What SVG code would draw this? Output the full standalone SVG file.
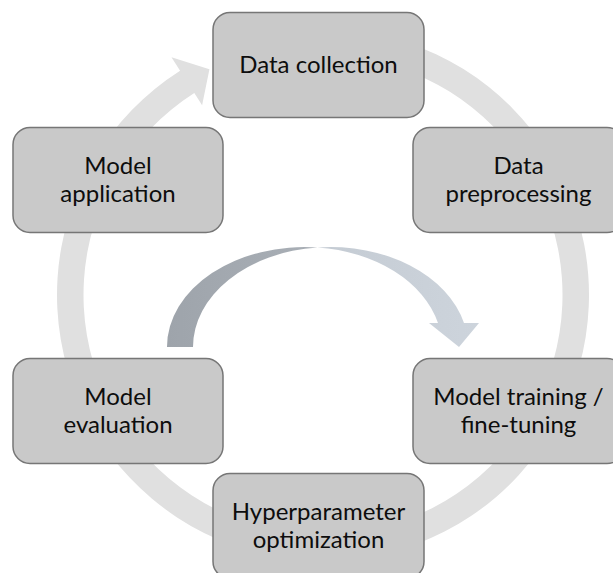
<svg xmlns="http://www.w3.org/2000/svg" width="613" height="573" viewBox="0 0 613 573">
  <style>
    .node rect { fill: #c9c9c9; stroke: #767676; stroke-width: 1.5; }
    .node text { font-family: Lato, "Open Sans", "Liberation Sans", sans-serif; font-size: 24px; fill: #0d0d0d; text-anchor: middle; }
    .ring { fill: #e0e0e0; }
  </style>
  <defs>
    <linearGradient id="tailShade" gradientUnits="userSpaceOnUse" x1="167" y1="0" x2="318" y2="0">
      <stop offset="0" stop-color="#9ea4ab"/>
      <stop offset="1" stop-color="#a9afb6"/>
    </linearGradient>
    <linearGradient id="headShade" gradientUnits="userSpaceOnUse" x1="317" y1="0" x2="480" y2="0">
      <stop offset="0" stop-color="#c4cbd3"/>
      <stop offset="1" stop-color="#cdd4dc"/>
    </linearGradient>
  </defs>

  <!-- connectors: cycle ring behind the steps and the inner loop-back arrow -->
  <g id="connectors">
    <path class="ring" d="M 346.18,30.01 A 266 266 0 1 1 180.08,70.66 L 171.48,57.16 L 209.43,69.20 L 202.11,105.24 L 194.32,93.01 A 239.5 239.5 0 1 0 343.87,56.41 Z"/>
    <g id="loop-arrow">
      <path fill="url(#tailShade)" d="M 167,347 A 137.5 100 0 0 1 317.5,247.45 A 137.5 100 0 0 0 193,347 Z"/>
      <path fill="url(#headShade)" d="M 317.5,247.45 A 137.5 100 0 0 1 464,323 L 479,323 L 459,347 L 429,323 L 438,323 A 137.5 100 0 0 0 317.5,247.45 Z"/>
    </g>
  </g>

  <g id="data-collection" class="node">
    <rect x="213" y="12.5" width="211" height="105" rx="17"/>
    <text x="318.5" y="72.5">Data collection</text>
  </g>
  <g id="data-preprocessing" class="node">
    <rect x="413" y="127.5" width="211" height="105" rx="17"/>
    <text x="518.5" y="174">Data</text>
    <text x="518.5" y="202">preprocessing</text>
  </g>
  <g id="model-training" class="node">
    <rect x="413" y="358.5" width="211" height="105" rx="17"/>
    <text x="518.5" y="405">Model training /</text>
    <text x="518.5" y="433">fine-tuning</text>
  </g>
  <g id="hyperparameter-optimization" class="node">
    <rect x="213" y="473.5" width="211" height="105" rx="17"/>
    <text x="318.5" y="520">Hyperparameter</text>
    <text x="318.5" y="548">optimization</text>
  </g>
  <g id="model-evaluation" class="node">
    <rect x="13" y="358.5" width="210" height="105" rx="17"/>
    <text x="118" y="405">Model</text>
    <text x="118" y="433">evaluation</text>
  </g>
  <g id="model-application" class="node">
    <rect x="13" y="127.5" width="210" height="105" rx="17"/>
    <text x="118" y="174">Model</text>
    <text x="118" y="202">application</text>
  </g>
</svg>
